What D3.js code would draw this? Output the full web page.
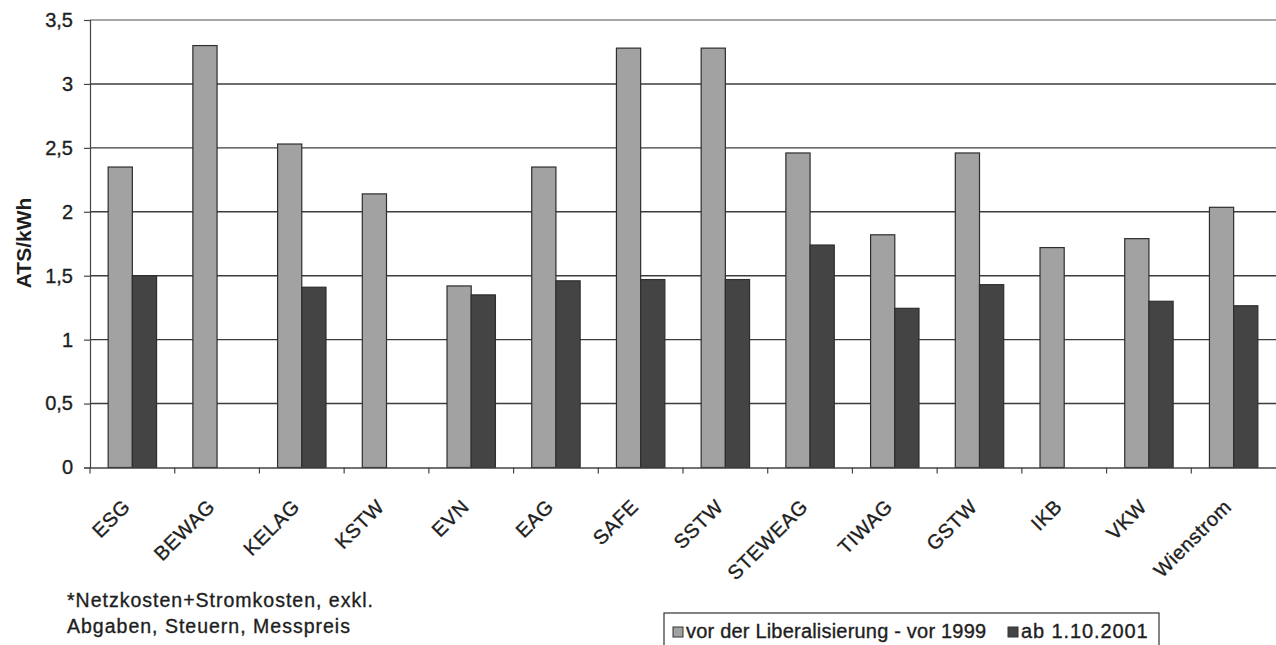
<!DOCTYPE html>
<html>
<head>
<meta charset="utf-8">
<script src="https://cdn.jsdelivr.net/npm/d3@7"></script>
<style>
  html, body { margin: 0; padding: 0; background: #fff; }
  svg { display: block; font-family: "Liberation Sans", Arial, sans-serif; }
</style>
</head>
<body>
<svg id="chart" width="1276" height="645"></svg>
<script>
const categories = ["ESG","BEWAG","KELAG","KSTW","EVN","EAG","SAFE","SSTW","STEWEAG","TIWAG","GSTW","IKB","VKW","Wienstrom"];
const seriesNames = ["vor der Liberalisierung - vor 1999", "ab 1.10.2001"];
const vorValues = [2.35, 3.30, 2.53, 2.14, 1.42, 2.35, 3.28, 3.28, 2.46, 1.82, 2.46, 1.72, 1.79, 2.035];
const abValues  = [1.50, null, 1.41, null, 1.35, 1.46, 1.47, 1.47, 1.74, 1.245, 1.43, null, 1.30, 1.265];
const yTicks = [0, 0.5, 1, 1.5, 2, 2.5, 3, 3.5];
const yTitle = "ATS/kWh";
const footnote = ["*Netzkosten+Stromkosten, exkl.", "Abgaben, Steuern, Messpreis"];

const colors = ["#a2a2a2", "#444444"];
const textColor = "#1e1e1e";

const svg = d3.select("#chart");
const mLeft = 90, mRight = 1276, mTop = 20, mBottom = 467.5;

const x = d3.scaleBand().domain(categories).range([mLeft, mRight]).padding(0);
const x1 = d3.scaleBand().domain(seriesNames).range([0, x.bandwidth()]).paddingInner(0).paddingOuter(0.75);
const y = d3.scaleLinear().domain([0, 3.5]).range([mBottom, mTop]);

function styleText(sel, size, ls) {
  sel.attr("font-size", size).attr("fill", textColor)
    .attr("stroke", textColor).attr("stroke-width", 0.35)
    .attr("letter-spacing", ls || 0)
    .attr("font-family", "'Liberation Sans', Arial, sans-serif");
}

// gridlines
svg.append("g").selectAll("line").data(yTicks.filter(d => d > 0)).join("line")
  .attr("x1", mLeft).attr("x2", mRight)
  .attr("y1", d => y(d)).attr("y2", d => y(d))
  .attr("stroke", d => d === 3.5 ? "#8a8a8a" : "#3c3c3c")
  .attr("stroke-width", 1.4);

// bars
const data = categories.map((c, i) => ({ c, vals: [vorValues[i], abValues[i]] }));
const groups = svg.append("g").selectAll("g").data(data).join("g")
  .attr("transform", d => `translate(${x(d.c)},0)`);
groups.selectAll("rect")
  .data(d => d.vals.map((v, k) => ({ v, k })).filter(e => e.v != null))
  .join("rect")
  .attr("x", e => x1(seriesNames[e.k]))
  .attr("width", x1.bandwidth())
  .attr("y", e => y(e.v))
  .attr("height", e => y(0) - y(e.v))
  .attr("fill", e => colors[e.k])
  .attr("stroke", "#2e2e2e")
  .attr("stroke-width", 1.2);

// y axis
const yAxis = d3.axisLeft(y).tickValues(yTicks).tickSize(6).tickPadding(11)
  .tickFormat(d => String(d).replace(".", ","));
const gy = svg.append("g").attr("transform", `translate(${mLeft},0)`).call(yAxis);
gy.select(".domain").attr("stroke", "#444").attr("stroke-width", 1.2);
gy.selectAll(".tick line").attr("stroke", "#444").attr("stroke-width", 1.2);
styleText(gy.selectAll("text"), 20);

// x axis
const xAxis = d3.axisBottom(x).tickSize(0).tickFormat("");
const gx = svg.append("g").attr("transform", `translate(0,${mBottom})`).call(xAxis);
gx.select(".domain").attr("stroke", "#444").attr("stroke-width", 1.4);
gx.append("g").selectAll("line").data(categories).join("line")
  .attr("x1", d => x(d)).attr("x2", d => x(d))
  .attr("y1", 0).attr("y2", 6)
  .attr("stroke", "#444").attr("stroke-width", 1.2);

// rotated category labels
const xl = svg.append("g").selectAll("text").data(categories).join("text")
  .attr("transform", d => `translate(${x(d) + x.bandwidth() / 2 - 1},${508}) rotate(-45)`)
  .attr("text-anchor", "end")
  .text(d => d);
styleText(xl, 20, 0.5);

// y title
svg.append("text")
  .attr("transform", `translate(31,243) rotate(-90)`)
  .attr("text-anchor", "middle")
  .attr("font-size", 21)
  .attr("font-weight", "bold")
  .attr("fill", textColor)
  .text(yTitle);

// footnote
const fn = svg.append("g").selectAll("text").data(footnote).join("text")
  .attr("x", 67).attr("y", (d, i) => 607 + i * 26)
  .text(d => d);
styleText(fn, 19.5, 1);

// legend
const lg = svg.append("g");
lg.append("rect").attr("x", 664).attr("y", 613).attr("width", 495).attr("height", 40)
  .attr("fill", "#fff").attr("stroke", "#333").attr("stroke-width", 1.2);
const legendItems = [{ name: seriesNames[0], x: 673 }, { name: seriesNames[1], x: 1008 }];
legendItems.forEach((it, k) => {
  lg.append("rect").attr("x", it.x).attr("y", 627).attr("width", 10).attr("height", 10)
    .attr("fill", colors[k]).attr("stroke", "#333").attr("stroke-width", 1);
  const t = lg.append("text").attr("x", it.x + 13).attr("y", 638)
    .text(it.name);
  styleText(t, 20, k === 0 ? 0.2 : 0.9);
});
</script>
</body>
</html>
